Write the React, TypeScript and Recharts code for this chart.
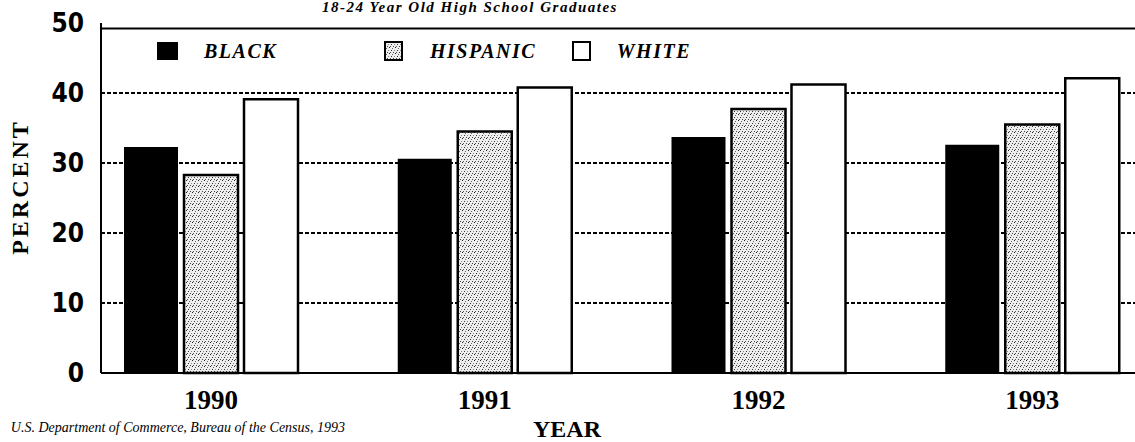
import React from "react";
import { BarChart, Bar, XAxis, YAxis, CartesianGrid, ReferenceLine, Legend } from "recharts";

// percent of 18-24 year old high school graduates
const years = ["1990", "1991", "1992", "1993"];
const black = [32.3, 30.6, 33.7, 32.6];
const hispanic = [28.3, 34.5, 37.7, 35.5];
const white = [39.1, 40.8, 41.2, 42.1];
const yTicks = [0, 10, 20, 30, 40, 50];
const gridValues = [10, 20, 30, 40];

const data = years.map((year, i) => ({
  year,
  black: black[i],
  hispanic: hispanic[i],
  white: white[i],
}));

const series = [
  { key: "black", name: "BLACK", fill: "#000", stroke: "none", width: 226 },
  { key: "hispanic", name: "HISPANIC", fill: "url(#stipple)", stroke: "#000", width: 188 },
  { key: "white", name: "WHITE", fill: "#fff", stroke: "#000", width: 120 },
];

const serif = "'Liberation Serif', 'Times New Roman', serif";

function LegendBox() {
  return (
    <div style={{ display: "flex", alignItems: "center" }}>
      {series.map((s) => (
        <div key={s.key} style={{ display: "flex", alignItems: "center", width: s.width }}>
          <svg width={22} height={20} style={{ marginRight: 25 }}>
            <rect
              x={s.stroke === "none" ? 0 : 2}
              y={1}
              width={s.stroke === "none" ? 21 : 17}
              height={18}
              fill={s.fill}
              stroke={s.stroke}
              strokeWidth={2}
            />
          </svg>
          <span
            style={{
              fontFamily: serif,
              fontWeight: "bold",
              fontStyle: "italic",
              fontSize: 20,
              letterSpacing: 1.5,
              lineHeight: "20px",
            }}
          >
            {s.name}
          </span>
        </div>
      ))}
    </div>
  );
}

export default function App() {
  return (
    <div style={{ position: "absolute", left: 0, top: 0, width: 1135, height: 442, overflow: "hidden", background: "#fff" }}>
      <BarChart
        width={1135}
        height={442}
        data={data}
        margin={{ top: 23, right: 0, bottom: 29, left: 0 }}
        barSize={54}
        barGap={6}
      >
        <defs>
          <pattern id="stipple" width={6} height={6} patternUnits="userSpaceOnUse">
            <rect width={6} height={6} fill="#eeeeee" />
            <rect x={0} y={0} width={1} height={1} fill="#222" />
            <rect x={3} y={1} width={1} height={1} fill="#666" />
            <rect x={2} y={3} width={1} height={1} fill="#333" />
            <rect x={5} y={3} width={1} height={1} fill="#888" />
            <rect x={1} y={5} width={1} height={1} fill="#555" />
            <rect x={4} y={5} width={1} height={1} fill="#444" />
          </pattern>
        </defs>
        <CartesianGrid
          vertical={false}
          horizontalValues={gridValues}
          stroke="#000"
          strokeWidth={2}
          strokeDasharray="4 2"
        />
        <XAxis
          dataKey="year"
          padding={{ left: -27, right: -34 }}
          height={40}
          tickLine={false}
          tickSize={0}
          tickMargin={17}
          axisLine={{ stroke: "#000", strokeWidth: 2 }}
          tick={{ fill: "#000", fontFamily: serif, fontWeight: "bold", fontSize: 27 }}
        />
        <YAxis
          domain={[0, 50]}
          ticks={yTicks}
          width={101}
          tickLine={false}
          tickSize={0}
          tickMargin={17}
          axisLine={{ stroke: "#000", strokeWidth: 2 }}
          tick={{
            fill: "#000",
            fontFamily: "'DejaVu Sans Condensed', 'Liberation Sans Narrow', sans-serif",
            fontWeight: "bold",
            fontSize: 26,
          }}
        />
        <ReferenceLine y={49.2} stroke="#000" strokeWidth={2} />
        <Legend
          layout="horizontal"
          verticalAlign="middle"
          content={() => <LegendBox />}
          wrapperStyle={{ top: 41, left: 157, width: 600, height: 22 }}
        />
        {series.map((s) => (
          <Bar
            key={s.key}
            dataKey={s.key}
            name={s.name}
            fill={s.fill}
            stroke={s.stroke}
            strokeWidth={s.stroke === "none" ? 0 : 2.5}
            isAnimationActive={false}
          />
        ))}
      </BarChart>

      <div
        style={{
          position: "absolute",
          left: 220,
          top: 0,
          width: 500,
          textAlign: "center",
          fontFamily: serif,
          fontWeight: "bold",
          fontStyle: "italic",
          fontSize: 15,
          letterSpacing: 1.5,
          lineHeight: "15px",
          whiteSpace: "nowrap",
        }}
      >
        18-24 Year Old High School Graduates
      </div>
      <div
        style={{
          position: "absolute",
          left: -80,
          top: 172,
          width: 200,
          height: 30,
          lineHeight: "30px",
          textAlign: "center",
          transform: "rotate(-90deg)",
          fontFamily: serif,
          fontWeight: "bold",
          fontSize: 24,
          letterSpacing: 3,
        }}
      >
        PERCENT
      </div>
      <div
        style={{
          position: "absolute",
          left: 467,
          top: 417,
          width: 200,
          textAlign: "center",
          fontFamily: serif,
          fontWeight: "bold",
          fontSize: 24,
          lineHeight: "24px",
        }}
      >
        YEAR
      </div>
      <div
        style={{
          position: "absolute",
          left: -200,
          top: 421,
          width: 545,
          textAlign: "right",
          fontFamily: serif,
          fontStyle: "italic",
          fontSize: 14,
          lineHeight: "14px",
          whiteSpace: "nowrap",
        }}
      >
        U.S. Department of Commerce, Bureau of the Census, 1993
      </div>
    </div>
  );
}
